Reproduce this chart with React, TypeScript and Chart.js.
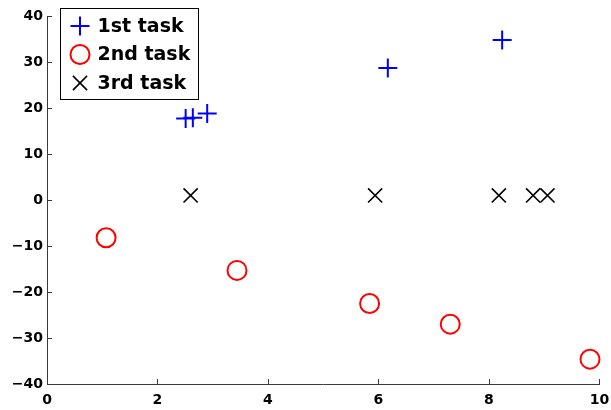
import React, { useEffect, useRef } from 'react';
import { Chart, registerables } from 'chart.js';

Chart.register(...registerables);

const seriesLabels = ['1st task', '2nd task', '3rd task'];
const task1X = [2.51, 2.64, 2.9, 6.17, 8.24];
const task1Y = [17.7, 17.9, 18.8, 28.7, 34.8];
const task2X = [1.07, 3.44, 5.84, 7.3, 9.83];
const task2Y = [-8.2, -15.3, -22.5, -27.0, -34.6];
const task3X = [2.6, 5.94, 8.18, 8.8, 9.06];
const task3Y = [1.0, 1.0, 1.0, 1.0, 1.0];
const xTicks = [0, 2, 4, 6, 8, 10];
const yTicks = [-40, -30, -20, -10, 0, 10, 20, 30, 40];

const FONT = '"DejaVu Sans", "Liberation Sans", Arial, sans-serif';
const AXIS_COLOR = '#3a3a3a';

const toPoints = (xs: number[], ys: number[]) => xs.map((x, i) => ({ x, y: ys[i] }));

const inwardTicks = {
  id: 'inwardTicks',
  afterDatasetsDraw(chart: any) {
    const { ctx, chartArea, scales } = chart;
    const len = 5;
    ctx.save();
    ctx.strokeStyle = AXIS_COLOR;
    ctx.lineWidth = 1;
    ctx.beginPath();
    scales.x.ticks.forEach((t: any) => {
      const px = Math.round(scales.x.getPixelForValue(t.value)) + 0.5;
      ctx.moveTo(px, chartArea.bottom);
      ctx.lineTo(px, chartArea.bottom - len);
    });
    scales.y.ticks.forEach((t: any) => {
      const py = Math.round(scales.y.getPixelForValue(t.value)) + 0.5;
      ctx.moveTo(chartArea.left, py);
      ctx.lineTo(chartArea.left + len, py);
    });
    ctx.stroke();
    ctx.restore();
  },
};

const boxLegend = {
  id: 'boxLegend',
  afterDatasetsDraw(chart: any) {
    const { ctx, chartArea } = chart;
    const x0 = chartArea.left + 13.5;
    const y0 = chartArea.top - 7.5;
    const w = 138;
    const h = 91;
    ctx.save();
    ctx.fillStyle = '#ffffff';
    ctx.fillRect(x0, y0, w, h);
    ctx.strokeStyle = '#000000';
    ctx.lineWidth = 1;
    ctx.strokeRect(x0, y0, w, h);
    const rowH = 28.5;
    const firstRow = y0 + 17.5;
    const mx = x0 + 19.5;
    const tx = x0 + 37;
    chart.data.datasets.forEach((ds: any, i: number) => {
      const cy = firstRow + i * rowH;
      const r = ds.pointRadius;
      ctx.strokeStyle = ds.borderColor;
      ctx.lineWidth = ds.borderWidth;
      ctx.beginPath();
      if (ds.pointStyle === 'cross') {
        ctx.moveTo(mx - r, cy);
        ctx.lineTo(mx + r, cy);
        ctx.moveTo(mx, cy - r);
        ctx.lineTo(mx, cy + r);
      } else if (ds.pointStyle === 'crossRot') {
        const d = r * Math.SQRT1_2;
        ctx.moveTo(mx - d, cy - d);
        ctx.lineTo(mx + d, cy + d);
        ctx.moveTo(mx - d, cy + d);
        ctx.lineTo(mx + d, cy - d);
      } else {
        ctx.arc(mx, cy, r, 0, Math.PI * 2);
      }
      ctx.stroke();
      ctx.fillStyle = '#000000';
      ctx.font = `bold 19px ${FONT}`;
      ctx.textBaseline = 'middle';
      ctx.textAlign = 'left';
      ctx.fillText(ds.label, tx, cy + 1);
    });
    ctx.restore();
  },
};

const fmt = (v: number) => (v < 0 ? '\u2212' + Math.abs(v) : String(v));

export default function App() {
  const ref = useRef<HTMLCanvasElement | null>(null);
  useEffect(() => {
    if (!ref.current) return;
    const chart = new Chart(ref.current, {
      type: 'scatter',
      data: {
        datasets: [
          {
            label: seriesLabels[0],
            data: toPoints(task1X, task1Y),
            pointStyle: 'cross',
            pointRadius: 9.5,
            borderColor: '#0000ff',
            backgroundColor: '#0000ff',
            borderWidth: 2,
            clip: false,
          } as any,
          {
            label: seriesLabels[1],
            data: toPoints(task2X, task2Y),
            pointStyle: 'circle',
            pointRadius: 9.5,
            borderColor: '#ff0000',
            backgroundColor: 'rgba(0,0,0,0)',
            borderWidth: 2,
            clip: false,
          } as any,
          {
            label: seriesLabels[2],
            data: toPoints(task3X, task3Y),
            pointStyle: 'crossRot',
            pointRadius: 10,
            borderColor: '#000000',
            backgroundColor: '#000000',
            borderWidth: 1.6,
            clip: false,
          } as any,
        ],
      },
      options: {
        animation: false,
        responsive: false,
        devicePixelRatio: 1,
        layout: { padding: { top: 16, right: 10, left: 0, bottom: 0 } },
        plugins: { legend: { display: false }, tooltip: { enabled: false } },
        scales: {
          x: {
            type: 'linear',
            min: 0,
            max: 10,
            grid: { display: false, drawTicks: false },
            border: { display: true, color: AXIS_COLOR, width: 1 },
            ticks: {
              padding: 8,
              color: '#000000',
              font: { family: FONT, size: 14, weight: 'bold' },
              callback: (v: any) => fmt(Number(v)),
            },
            afterBuildTicks: (s: any) => {
              s.ticks = xTicks.map((v) => ({ value: v }));
            },
            afterFit: (s: any) => {
              s.height = 26;
              s.paddingRight = 0;
              s.paddingLeft = 0;
            },
          },
          y: {
            type: 'linear',
            min: -40,
            max: 40,
            grid: { display: false, drawTicks: false },
            border: { display: true, color: AXIS_COLOR, width: 1 },
            ticks: {
              padding: 4,
              color: '#000000',
              font: { family: FONT, size: 14, weight: 'bold' },
              callback: (v: any) => fmt(Number(v)),
            },
            afterBuildTicks: (s: any) => {
              s.ticks = yTicks.map((v) => ({ value: v }));
            },
            afterFit: (s: any) => {
              s.width = 47;
              s.paddingTop = 0;
              s.paddingBottom = 0;
            },
          },
        },
      } as any,
      plugins: [inwardTicks, boxLegend],
    });
    return () => chart.destroy();
  }, []);
  return (
    <div style={{ position: 'absolute', left: 0, top: 0, width: 611, height: 410, background: '#fff' }}>
      <canvas ref={ref} width={611} height={410} style={{ display: 'block' }} />
    </div>
  );
}
